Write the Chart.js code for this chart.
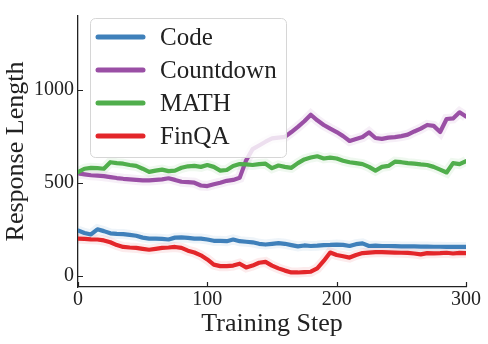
<!DOCTYPE html>
<html>
<head>
<meta charset="utf-8">
<script src="https://cdn.jsdelivr.net/npm/chart.js@4/dist/chart.umd.min.js"></script>
<style>
  html, body { margin: 0; padding: 0; background: #fff; }
  #wrap { width: 488px; height: 344px; }
</style>
</head>
<body>
<div id="wrap"><canvas id="c" width="488" height="344"></canvas></div>
<script>
// training steps, one value every 5 steps
const steps = [0,5,10,15,20,25,30,35,40,45,50,55,60,65,70,75,80,85,90,95,100,
  105,110,115,120,125,130,135,140,145,150,155,160,165,170,175,180,185,190,195,200,
  205,210,215,220,225,230,235,240,245,250,255,260,265,270,275,280,285,290,295,300];

const code = [243,230,222,250,240,228,225,224,220,215,205,200,200,198,195,205,206,204,200,200,195,
  188,188,186,195,186,183,180,172,168,172,176,172,165,158,163,160,162,165,166,168,
  166,160,170,174,160,162,160,160,159,158,158,158,157,157,156,156,155,155,155,155];

const countdown = [550,545,540,538,535,530,525,521,518,515,512,512,515,518,524,515,505,503,500,485,482,
  492,500,510,515,526,620,680,700,720,738,742,746,772,800,830,865,835,810,790,772,
  750,724,735,745,770,740,735,742,745,750,758,775,790,810,805,772,842,845,878,855];

const math = [556,575,580,578,575,610,605,602,595,590,575,558,565,570,562,565,580,588,590,585,595,
  585,565,568,590,600,598,595,600,602,578,592,585,580,605,625,635,642,630,635,630,
  618,610,605,600,585,565,585,590,613,610,605,602,598,595,585,570,555,605,600,616];

const finqa = [200,198,196,195,190,180,165,155,152,150,145,140,145,150,152,155,150,135,125,110,88,
  60,52,52,55,65,45,55,70,75,55,40,28,18,18,20,22,40,80,125,112,
  105,98,112,122,125,127,127,126,125,124,123,120,115,122,121,122,124,120,123,122];

const seriesNames = ['Code', 'Countdown', 'MATH', 'FinQA'];
const seriesValues = [code, countdown, math, finqa];
const seriesColors = ['#3f80ba', '#9a4fa5', '#50ae4c', '#e3262a'];
const seriesHalo = ['rgba(63,128,186,0.09)', 'rgba(154,79,165,0.09)', 'rgba(80,174,76,0.09)', 'rgba(227,38,42,0.09)'];

const xTicks = [0, 100, 200, 300];
const yTicks = [0, 500, 1000];

Chart.defaults.font.family = "'Liberation Serif', 'DejaVu Serif', serif";
Chart.defaults.color = '#222';

const datasets = [];
seriesNames.forEach(function(name, i) {
  datasets.push({
    label: '_halo' + name,
    data: steps.map((s, j) => ({x: s, y: seriesValues[i][j]})),
    borderColor: seriesHalo[i],
    borderWidth: 10,
    pointRadius: 0,
    tension: 0,
    order: 10
  });
});
seriesNames.forEach(function(name, i) {
  datasets.push({
    label: name,
    data: steps.map((s, j) => ({x: s, y: seriesValues[i][j]})),
    borderColor: seriesColors[i],
    borderWidth: 4.2,
    pointRadius: 0,
    tension: 0,
    borderJoinStyle: 'round',
    borderCapStyle: 'round',
    order: 4 - i
  });
});

// ticks point inward, like the matplotlib figure
const inwardTicks = {
  id: 'inwardTicks',
  afterDraw(chart) {
    const ctx = chart.ctx, xs = chart.scales.x, ys = chart.scales.y;
    ctx.save();
    ctx.strokeStyle = '#222';
    ctx.lineWidth = 1.2;
    ctx.beginPath();
    xTicks.forEach(function(v) {
      const px = Math.round(xs.getPixelForValue(v)) + 0.5;
      ctx.moveTo(px, ys.bottom);
      ctx.lineTo(px, ys.bottom - 5);
    });
    yTicks.forEach(function(v) {
      const py = Math.round(ys.getPixelForValue(v)) + 0.5;
      ctx.moveTo(xs.left, py);
      ctx.lineTo(xs.left + 5, py);
    });
    ctx.stroke();
    ctx.restore();
  }
};

// legend box inside the plot, upper left
const boxLegend = {
  id: 'boxLegend',
  afterDatasetsDraw(chart) {
    const ctx = chart.ctx;
    const bx = 90, by = 18, bw = 196, bh = 139, r = 5;
    ctx.save();
    ctx.beginPath();
    ctx.roundRect(bx + 0.5, by + 0.5, bw, bh, r);
    ctx.fillStyle = 'rgba(255,255,255,0.82)';
    ctx.fill();
    ctx.strokeStyle = '#d6d6d6';
    ctx.lineWidth = 1;
    ctx.stroke();
    ctx.font = "25px 'Liberation Serif', serif";
    ctx.textBaseline = 'middle';
    ctx.fillStyle = '#222';
    seriesNames.forEach(function(name, i) {
      const cy = 37 + i * 33;
      ctx.beginPath();
      ctx.moveTo(98, cy);
      ctx.lineTo(143, cy);
      ctx.strokeStyle = seriesColors[i];
      ctx.lineWidth = 5;
      ctx.lineCap = 'round';
      ctx.stroke();
      ctx.fillText(name, 160, cy + 1);
    });
    ctx.restore();
  }
};

new Chart(document.getElementById('c'), {
  type: 'line',
  data: { datasets: datasets },
  options: {
    responsive: false,
    animation: false,
    layout: { padding: { top: 7, right: 22, left: 0, bottom: 0 } },
    plugins: { legend: { display: false }, tooltip: { enabled: false } },
    scales: {
      x: {
        type: 'linear',
        min: 0,
        max: 300,
        afterBuildTicks: function(scale) { scale.ticks = xTicks.map(v => ({value: v})); },
        afterFit: function(scale) { scale.height = 57; },
        grid: { display: false, drawTicks: false, tickLength: 0 },
        border: { display: true, color: '#222', width: 1.3 },
        ticks: { font: { size: 20 }, padding: 1, maxRotation: 0, color: '#222' },
        title: { display: true, text: 'Training Step', font: { size: 26 }, padding: { top: 0, bottom: 4 }, color: '#222' }
      },
      y: {
        min: -60,
        max: 1395,
        afterBuildTicks: function(scale) { scale.ticks = yTicks.map(v => ({value: v})); },
        afterFit: function(scale) { scale.width = 78; },
        grid: { display: false, drawTicks: false, tickLength: 0 },
        border: { display: true, color: '#222', width: 1.3 },
        ticks: { font: { size: 20 }, padding: 4, color: '#222', callback: v => String(v) },
        title: { display: true, text: 'Response Length', font: { size: 26 }, padding: { top: 1, bottom: 0 }, color: '#222' }
      }
    }
  },
  plugins: [inwardTicks, boxLegend]
});
</script>
</body>
</html>
